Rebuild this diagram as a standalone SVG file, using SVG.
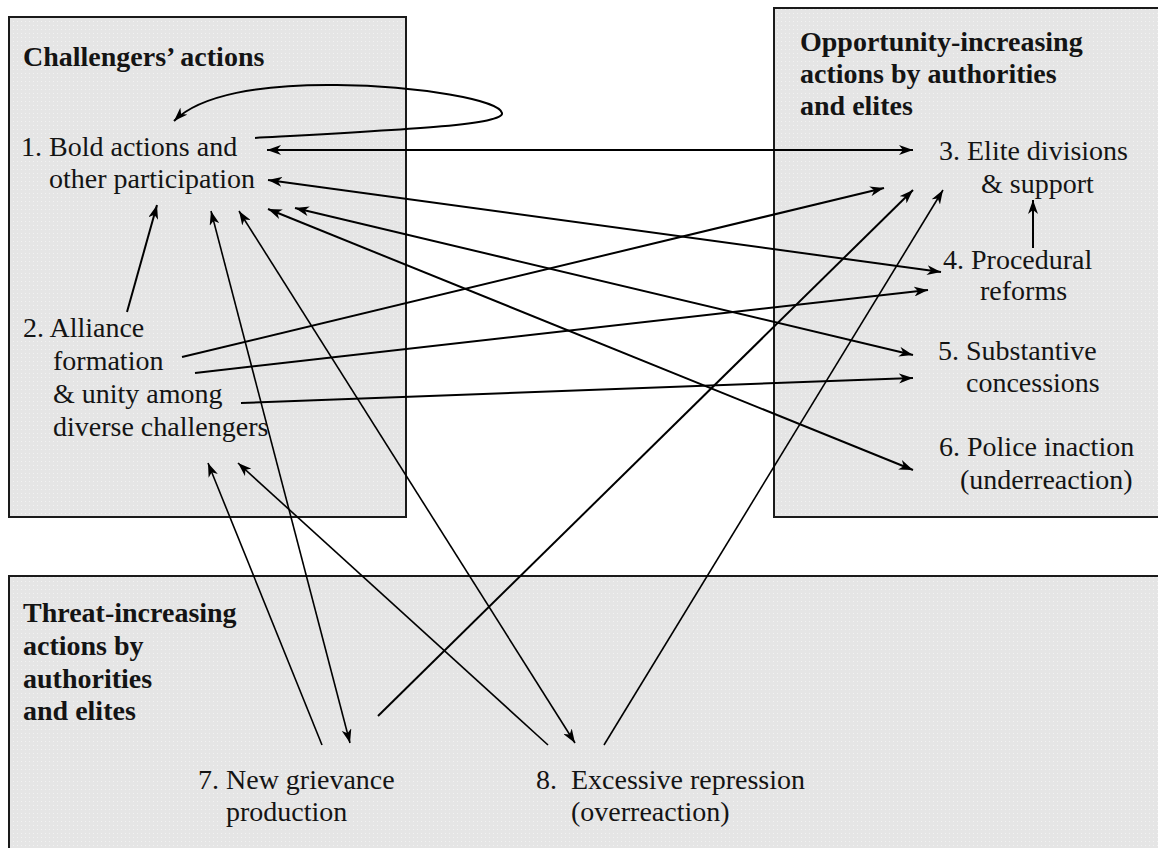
<svg xmlns="http://www.w3.org/2000/svg" width="1158" height="848" viewBox="0 0 1158 848">
<defs>
  <pattern id="dots" width="4" height="4" patternUnits="userSpaceOnUse">
    <rect width="4" height="4" fill="#e5e5e5"/>
    <rect x="1" y="1" width="1" height="1" fill="#f2f2f2"/>
  </pattern>
  <marker id="ah" viewBox="0 0 14 10" refX="14" refY="5" markerWidth="14" markerHeight="10" markerUnits="userSpaceOnUse" orient="auto-start-reverse">
    <path d="M0,0 L14,5 L0,10 L4,5 z" fill="#000"/>
  </marker>
</defs>
<style>
  .box { fill: url(#dots); stroke: #1a1a1a; stroke-width: 2; }
  .t { font-family: "Liberation Serif", "Times New Roman", serif; font-size: 28px; fill: #141414; }
  .h { font-weight: bold; }
  .c { fill: none; stroke: #000; stroke-width: 2; }
  .thin { stroke-width: 1.6; }
  .one { marker-end: url(#ah); }
  .two { marker-start: url(#ah); marker-end: url(#ah); }
</style>
<rect width="1158" height="848" fill="#fff"/>

<g id="group-challengers">
  <rect class="box" x="9" y="17" width="397" height="500"/>
  <text class="t h" x="23" y="66">Challengers’ actions</text>
</g>
<g id="group-opportunity">
  <rect class="box" x="774" y="8" width="400" height="509"/>
  <text class="t h" x="800" y="51">Opportunity-increasing</text>
  <text class="t h" x="800" y="83">actions by authorities</text>
  <text class="t h" x="800" y="115">and elites</text>
</g>
<g id="group-threat">
  <rect class="box" x="9" y="576" width="1160" height="290"/>
  <text class="t h" x="23" y="622">Threat-increasing</text>
  <text class="t h" x="23" y="655">actions by</text>
  <text class="t h" x="23" y="688">authorities</text>
  <text class="t h" x="23" y="720">and elites</text>
</g>

<g id="connectors">
  <path class="c one" d="M255,138 C400,130 505,125 502,113 C499,100 420,86 337,85 C260,84 200,95 174,121"/>
  <path class="c two" d="M267,150 L913,150"/>
  <path class="c two" d="M268,180 L941,272"/>
  <path class="c two" d="M295,208 L913,355"/>
  <path class="c two" d="M268,209 L913,470"/>
  <path class="c two thin" d="M211,211 L350,743"/>
  <path class="c two thin" d="M239,211 L575,743"/>
  <path class="c one" d="M127,312 L157,205"/>
  <path class="c one" d="M182,357 L884,188"/>
  <path class="c one" d="M195,373 L928,290"/>
  <path class="c one" d="M241,403 L913,378"/>
  <path class="c one thin" d="M322,745 L208,463"/>
  <path class="c one thin" d="M548,745 L238,463"/>
  <path class="c one" d="M378,716 L913,190"/>
  <path class="c one thin" d="M604,745 L943,190"/>
  <path class="c one" d="M1033,248 L1033,200"/>
</g>

<g id="node-1">
  <text class="t" x="21" y="156">1. Bold actions and</text>
  <text class="t" x="49" y="188">other participation</text>
</g>
<g id="node-2">
  <text class="t" x="23" y="337">2. Alliance</text>
  <text class="t" x="53" y="370">formation</text>
  <text class="t" x="53" y="403">&amp; unity among</text>
  <text class="t" x="53" y="436">diverse challengers</text>
</g>
<g id="node-3">
  <text class="t" x="939" y="160">3. Elite divisions</text>
  <text class="t" x="981" y="193">&amp; support</text>
</g>
<g id="node-4">
  <text class="t" x="943" y="269">4. Procedural</text>
  <text class="t" x="980" y="300">reforms</text>
</g>
<g id="node-5">
  <text class="t" x="938" y="360">5. Substantive</text>
  <text class="t" x="966" y="392">concessions</text>
</g>
<g id="node-6">
  <text class="t" x="939" y="456">6. Police inaction</text>
  <text class="t" x="960" y="489">(underreaction)</text>
</g>
<g id="node-7">
  <text class="t" x="198" y="789">7. New grievance</text>
  <text class="t" x="226" y="821">production</text>
</g>
<g id="node-8">
  <text class="t" x="536" y="789">8.</text>
  <text class="t" x="571" y="789">Excessive repression</text>
  <text class="t" x="571" y="821">(overreaction)</text>
</g>
</svg>
